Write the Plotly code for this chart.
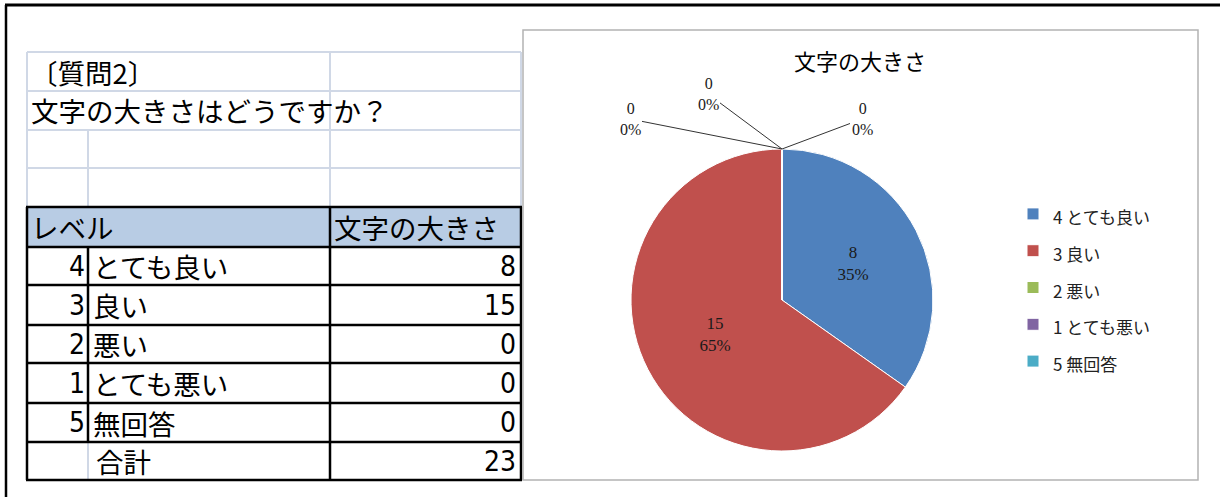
import plotly.graph_objects as go

W, H = 1220, 497

# ---- data ----
levels = ["4", "3", "2", "1", "5"]
labels = ["とても良い", "良い", "悪い", "とても悪い", "無回答"]
counts = [8, 15, 0, 0, 0]
total_label = "合計"
question_tag = "〔質問2〕"
question_text = "文字の大きさはどうですか？"
header_level = "レベル"
series_name = "文字の大きさ"
colors = ["#4f81bd", "#c0504d", "#9bbb59", "#8064a2", "#4bacc6"]

total = sum(counts)
legend_labels = [f"{lv} {lb}" for lv, lb in zip(levels, labels)]


def px(x):
    return x / W


def py(y):
    return 1 - y / H


JP = "Noto Sans CJK JP"
NUM = "Liberation Sans Narrow, DejaVu Sans Condensed, Noto Sans CJK JP"
SERIF = "Liberation Serif, Noto Sans CJK JP"
TS = 27.5

shapes = []
annotations = []


def line(x0, y0, x1, y1, color, width):
    shapes.append(dict(type="line", xref="paper", yref="paper",
                       x0=px(x0), y0=py(y0), x1=px(x1), y1=py(y1),
                       line=dict(color=color, width=width)))


def text(x, y, s, anchor="left", size=TS, family=JP, color="black"):
    annotations.append(dict(xref="paper", yref="paper", x=px(x), y=py(y),
                            text=s, showarrow=False, xanchor=anchor,
                            yanchor="middle",
                            font=dict(family=family, size=size, color=color)))


# ---- outer frame ----
line(5, 5, 1220, 5, "black", 3)
line(6, 5, 6, 497, "black", 2.5)

# ---- table layout ----
XL, XA, XB, XR = 27, 88, 330, 521
top_rows = [52, 91, 130, 168, 207]
body_rows = [207, 247, 285, 325, 363, 403, 442, 480]
GRID = "#d0d8e6"

# header fill
shapes.append(dict(type="rect", xref="paper", yref="paper",
                   x0=px(XL), y0=py(body_rows[1]), x1=px(XR), y1=py(body_rows[0]),
                   fillcolor="#b8cce4", line=dict(width=0), layer="below"))

for y in top_rows[:-1]:
    line(XL, y, XR, y, GRID, 2)
line(XL, top_rows[0], XL, top_rows[-1], GRID, 2)
line(XB, top_rows[0], XB, top_rows[-1], GRID, 2)
line(XR, top_rows[0], XR, top_rows[-1], GRID, 2)
line(XA, top_rows[2], XA, top_rows[-1], GRID, 2)
line(XA, body_rows[-2], XA, body_rows[-1], GRID, 2)

for y in body_rows:
    line(XL - 1, y, XR + 1, y, "black", 2.5)
line(XL, body_rows[0], XL, body_rows[-1], "black", 2.5)
line(XB, body_rows[0], XB, body_rows[-1], "black", 2.5)
line(XR, body_rows[0], XR, body_rows[-1], "black", 2.5)
line(XA, body_rows[1], XA, body_rows[-2], "black", 2.5)


def mid(a, b):
    return (a + b) / 2


text(28, mid(top_rows[0], top_rows[1]), question_tag)
text(29, mid(top_rows[1], top_rows[2]), question_text)
text(29, mid(body_rows[0], body_rows[1]), header_level)
text(332, mid(body_rows[0], body_rows[1]), series_name)

for i, (lv, lb, c) in enumerate(zip(levels, labels, counts)):
    yc = mid(body_rows[i + 1], body_rows[i + 2])
    text(87, yc, lv, anchor="right", size=28, family=NUM)
    text(91, yc, lb)
    text(518, yc, str(c), anchor="right", size=28, family=NUM)

yc = mid(body_rows[-2], body_rows[-1])
text(94, yc, total_label)
text(518, yc, str(total), anchor="right", size=28, family=NUM)

# ---- chart area box ----
shapes.append(dict(type="rect", xref="paper", yref="paper",
                   x0=px(523), y0=py(480), x1=px(1198), y1=py(30),
                   line=dict(color="#b3b3b3", width=1.5), fillcolor="rgba(0,0,0,0)"))

# ---- pie ----
PCX, PCY, PR = 782, 300, 151
fig = go.Figure()
fig.add_trace(go.Pie(
    labels=[f'<span style="font-size:17px">{s}</span>' for s in legend_labels],
    values=counts,
    sort=False,
    direction="clockwise",
    rotation=0,
    marker=dict(colors=colors, line=dict(color="white", width=1)),
    texttemplate="%{value}<br>%{percent:.0%}",
    textposition="inside",
    insidetextorientation="horizontal",
    textfont=dict(family=SERIF, size=17, color="#1a1a1a"),
    domain=dict(x=[px(PCX - PR), px(PCX + PR)], y=[py(PCY + PR), py(PCY - PR)]),
    hoverinfo="label+value+percent",
))

# zero-value labels with leader lines to the pie top
zero_idx = [i for i, v in enumerate(counts) if v == 0]
offsets = [(-152, -30), (-74, -55), (80, -30)]
for i, (ax, ay) in zip(zero_idx, offsets):
    annotations.append(dict(
        xref="paper", yref="paper", x=px(PCX), y=py(PCY - PR),
        text=f"{counts[i]}<br>{counts[i] / total:.0%}",
        showarrow=True, arrowhead=0, arrowwidth=1, arrowcolor="#333",
        ax=ax, ay=ay, font=dict(family=SERIF, size=16, color="#1a1a1a")))

fig.update_layout(
    width=W, height=H,
    margin=dict(l=0, r=0, t=0, b=0),
    paper_bgcolor="white",
    plot_bgcolor="white",
    title=dict(text=series_name, x=px(860), y=py(62), xanchor="center",
               yanchor="middle", font=dict(family=JP, size=22, color="black")),
    legend=dict(x=px(1013), y=py(288), xanchor="left", yanchor="middle",
                font=dict(family=JP, size=26, color="#222"),
                bgcolor="rgba(0,0,0,0)"),
    shapes=shapes,
    annotations=annotations,
)

fig.write_html("out.html", config={"displayModeBar": False},
               post_script="document.body.style.margin='0';")
